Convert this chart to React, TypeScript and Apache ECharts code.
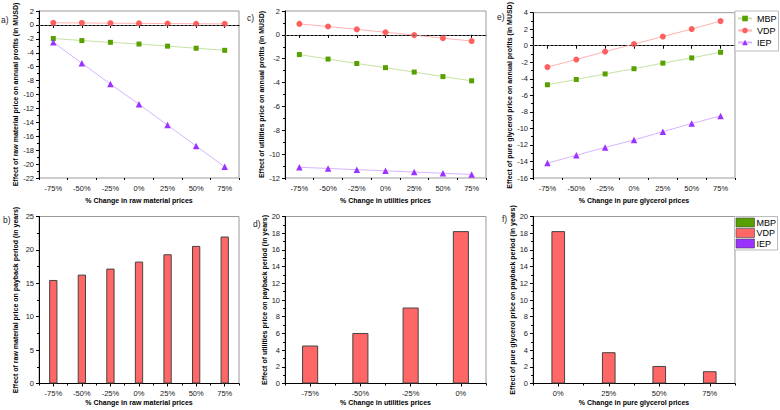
import React, { useEffect, useRef } from 'react';
import * as echarts from 'echarts';

// ---------- data ----------
const rawPct = ['-75%', '-50%', '-25%', '0%', '25%', '50%', '75%'];
const utilPct = ['-75%', '-50%', '-25%', '0%', '25%', '50%', '75%'];
const glyPct = ['-75%', '-50%', '-25%', '0%', '25%', '50%', '75%'];
const utilBarPct = ['-75%', '-50%', '-25%', '0%'];
const glyBarPct = ['0%', '25%', '50%', '75%'];

const rawMBP = [-1.95, -2.25, -2.5, -2.75, -3.05, -3.35, -3.65];
const rawVDP = [0.3, 0.28, 0.25, 0.22, 0.2, 0.17, 0.15];
const rawIEP = [-2.5, -5.5, -8.5, -11.4, -14.4, -17.4, -20.4];

const utilMBP = [-1.65, -2.03, -2.4, -2.75, -3.12, -3.5, -3.85];
const utilVDP = [0.92, 0.7, 0.46, 0.22, -0.02, -0.28, -0.52];
const utilIEP = [-11.1, -11.2, -11.3, -11.4, -11.5, -11.6, -11.7];

const glyMBP = [-4.72, -4.08, -3.41, -2.78, -2.1, -1.47, -0.79];
const glyVDP = [-2.58, -1.67, -0.71, 0.2, 1.11, 2.02, 2.98];
const glyIEP = [-14.2, -13.25, -12.3, -11.4, -10.4, -9.4, -8.5];

const rawPayback = [15.5, 16.3, 17.2, 18.25, 19.35, 20.6, 22.0];
const utilPayback = [4.55, 6.05, 9.1, 18.25];
const glyPayback = [18.25, 3.75, 2.1, 1.47];

const seriesNames = ['MBP', 'VDP', 'IEP'];

// ---------- styles ----------
const FONT = '"Liberation Sans", Arial, sans-serif';
const C_MBP = '#58a000';
const C_VDP = '#ff5f5f';
const C_IEP = '#9a33ff';
const L_MBP = '#c8e2a4';
const L_VDP = '#ffb2b2';
const L_IEP = '#d8b4ff';
const BAR_VDP = '#ff6666';

type Panel = {
  grid: { left: number; top: number; width: number; height: number };
  cats: string[];
  yMin: number;
  yMax: number;
  yInt: number;
  yName: string;
  xName: string;
  yGap: number;
  xGap: number;
  lines?: number[][];
  bars?: number[];
  barWidth?: string;
};

const panels: Panel[] = [
  {
    grid: { left: 39, top: 11, width: 200, height: 167 },
    cats: rawPct, yMin: -22, yMax: 2, yInt: 2,
    yName: 'Effect of raw material price on annual profits (in MUSD)',
    xName: '% Change in raw material prices', yGap: 20, xGap: 18.5,
    lines: [rawMBP, rawVDP, rawIEP],
  },
  {
    grid: { left: 285, top: 11, width: 201, height: 167 },
    cats: utilPct, yMin: -12, yMax: 2, yInt: 2,
    yName: 'Effect of utilities price on annual profits (in MUSD)',
    xName: '% Change in utilities prices', yGap: 20, xGap: 18.5,
    lines: [utilMBP, utilVDP, utilIEP],
  },
  {
    grid: { left: 533, top: 11, width: 202, height: 167 },
    cats: glyPct, yMin: -16, yMax: 4, yInt: 2,
    yName: 'Effect of pure glycerol price on annual profits (in MUSD)',
    xName: '% Change in pure glycerol prices', yGap: 17, xGap: 18.5,
    lines: [glyMBP, glyVDP, glyIEP],
  },
  {
    grid: { left: 39, top: 216.5, width: 200, height: 167 },
    cats: rawPct, yMin: 0, yMax: 25, yInt: 5,
    yName: 'Effect of raw material price on payback period (in years)',
    xName: '% Change in raw material prices', yGap: 20, xGap: 15.5,
    bars: rawPayback, barWidth: '29%',
  },
  {
    grid: { left: 285, top: 216.5, width: 201, height: 167 },
    cats: utilBarPct, yMin: 0, yMax: 20, yInt: 2,
    yName: 'Effect of utilities price on payback period (in years)',
    xName: '% Change in utilities prices', yGap: 16, xGap: 15.5,
    bars: utilPayback, barWidth: '32%',
  },
  {
    grid: { left: 533, top: 216.5, width: 202, height: 167 },
    cats: glyBarPct, yMin: 0, yMax: 20, yInt: 2,
    yName: 'Effect of pure glycerol price on payback period (in years)',
    xName: '% Change in pure glycerol prices', yGap: 13, xGap: 15.5,
    bars: glyPayback, barWidth: '27%',
  },
];

const lineStyles = [
  { symbol: 'rect', size: 5, color: C_MBP, line: L_MBP },
  { symbol: 'circle', size: 6, color: C_VDP, line: L_VDP },
  { symbol: 'triangle', size: 6.5, color: C_IEP, line: L_IEP },
];

function buildOption(): any {
  const grid: any[] = [];
  const xAxis: any[] = [];
  const yAxis: any[] = [];
  const series: any[] = [];

  panels.forEach((p, i) => {
    grid.push({
      ...p.grid,
      show: true,
      borderColor: '#9a9a9a',
      borderWidth: 1,
      containLabel: false,
    });
    xAxis.push({
      type: 'category',
      gridIndex: i,
      data: p.cats,
      boundaryGap: true,
      position: 'bottom',
      axisLine: { show: true, lineStyle: { color: '#000', width: 1 } },
      axisTick: { show: true, alignWithLabel: true, length: 3, lineStyle: { color: '#000' } },
      axisLabel: { fontSize: 7.5, color: '#1a1a1a', margin: 6, fontFamily: FONT, interval: 0 },
      splitLine: { show: false },
      name: p.xName,
      nameLocation: 'middle',
      nameGap: p.xGap,
      nameTextStyle: { fontSize: 7, fontWeight: 'bold', color: '#000', fontFamily: FONT },
    });
    xAxis.push({
      type: 'category',
      gridIndex: i,
      data: p.cats,
      boundaryGap: true,
      position: 'bottom',
      axisLine: { show: false },
      axisTick: { show: true, interval: 0, length: 2, lineStyle: { color: '#000' } },
      axisLabel: { show: false },
      splitLine: { show: false },
    });
    yAxis.push({
      type: 'value',
      gridIndex: i,
      min: p.yMin,
      max: p.yMax,
      interval: p.yInt,
      axisLine: { show: true, lineStyle: { color: '#000', width: 1 } },
      axisTick: { show: true, length: 3, lineStyle: { color: '#000' } },
      minorTick: { show: true, splitNumber: 2, length: 2, lineStyle: { color: '#000' } },
      splitLine: { show: false },
      minorSplitLine: { show: false },
      axisLabel: { fontSize: 7.5, color: '#1a1a1a', margin: 5, fontFamily: FONT },
      name: p.yName,
      nameLocation: 'middle',
      nameGap: p.yGap,
      nameTextStyle: { fontSize: 7, fontWeight: 'bold', color: '#000', fontFamily: FONT },
    });

    if (p.lines) {
      p.lines.forEach((vals, k) => {
        const st = lineStyles[k];
        const s: any = {
          type: 'line',
          name: seriesNames[k],
          xAxisIndex: 2 * i,
          yAxisIndex: i,
          data: vals,
          symbol: st.symbol,
          symbolSize: st.size,
          showSymbol: true,
          itemStyle: { color: st.color },
          lineStyle: { color: st.line, width: 1 },
          z: 3,
        };
        if (k === 1) {
          s.markLine = {
            silent: true,
            symbol: ['none', 'none'],
            label: { show: false },
            lineStyle: { color: '#555', type: [2, 2], width: 1 },
            data: [{ yAxis: 0 }],
          };
        }
        series.push(s);
      });
    }
    if (p.bars) {
      series.push({
        type: 'bar',
        name: 'VDP',
        xAxisIndex: 2 * i,
        yAxisIndex: i,
        data: p.bars,
        barWidth: p.barWidth,
        itemStyle: { color: BAR_VDP, borderColor: '#444', borderWidth: 1 },
      });
    }
  });

  const panelLabels = [
    { t: 'a)', x: 1, y: 20 },
    { t: 'c)', x: 247, y: 18 },
    { t: 'e)', x: 497, y: 17 },
    { t: 'b)', x: 3, y: 220 },
    { t: 'd)', x: 253, y: 224 },
    { t: 'f)', x: 502, y: 219 },
  ];

  const graphic: any[] = panelLabels.map((l) => ({
    type: 'text',
    left: l.x,
    top: l.y - 5,
    style: { text: l.t, font: `8.5px ${FONT}`, fill: '#222' },
  }));

  // bottom legend (bar colours)
  const barLegend = [
    { n: 'MBP', c: C_MBP },
    { n: 'VDP', c: BAR_VDP },
    { n: 'IEP', c: C_IEP },
  ];
  graphic.push({
    type: 'rect',
    shape: { x: 734.5, y: 216.5, width: 43, height: 33.5 },
    style: { fill: '#fff', stroke: '#bbb', lineWidth: 1 },
    z: 10,
  });
  barLegend.forEach((b, k) => {
    graphic.push({
      type: 'rect',
      shape: { x: 736, y: 218 + k * 10.5, width: 18.5, height: 9 },
      style: { fill: b.c, stroke: '#444', lineWidth: 0.6 },
      z: 11,
    });
    graphic.push({
      type: 'text',
      x: 756.5,
      y: 222.5 + k * 10.5,
      style: { text: b.n, font: `9px ${FONT}`, fill: '#000', verticalAlign: 'middle' },
      z: 11,
    });
  });

  return {
    animation: false,
    backgroundColor: '#fff',
    textStyle: { fontFamily: FONT },
    grid,
    xAxis,
    yAxis,
    series,
    legend: [
      {
        data: seriesNames,
        orient: 'vertical',
        left: 735,
        top: 11,
        itemWidth: 14,
        itemHeight: 7,
        itemGap: 3,
        padding: [3, 2, 4, 2],
        borderColor: '#bbb',
        borderWidth: 1,
        backgroundColor: '#fff',
        selectedMode: false,
        textStyle: { fontSize: 9, color: '#000', fontFamily: FONT },
        z: 10,
      },
    ],
    graphic,
  };
}

export default function App() {
  const ref = useRef<HTMLDivElement>(null);
  useEffect(() => {
    if (!ref.current) return;
    const chart = echarts.init(ref.current, undefined, { renderer: 'svg' });
    chart.setOption(buildOption());
    return () => chart.dispose();
  }, []);
  return (
    <div
      ref={ref}
      style={{ position: 'absolute', left: 0, top: 0, width: 780, height: 410, background: '#fff' }}
    />
  );
}
